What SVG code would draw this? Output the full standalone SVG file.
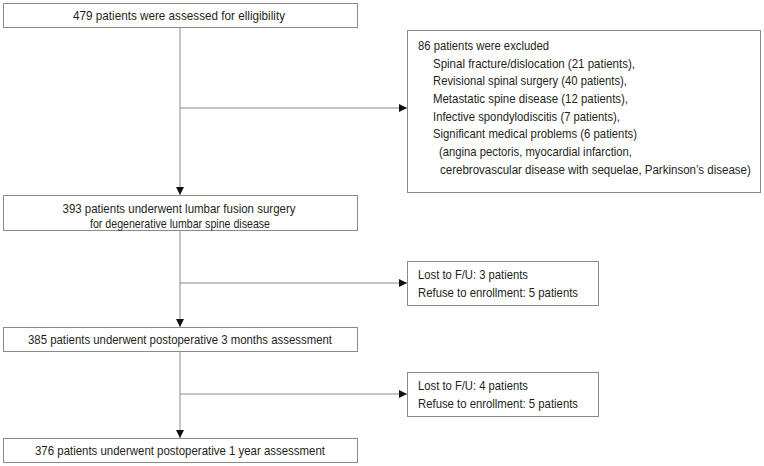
<svg xmlns="http://www.w3.org/2000/svg" width="764" height="466" viewBox="0 0 764 466">
<style>
.box{fill:#fff;stroke:#8a8a8a;stroke-width:1}
.t{font-family:"Liberation Sans",Arial,sans-serif;font-size:13.5px;fill:#231f20}
.c{text-anchor:middle}
.ln{stroke:#8a8a8a;stroke-width:1;fill:none}
</style>
<defs>
<marker id="ah" viewBox="0 0 10 10" refX="10" refY="5" markerWidth="10" markerHeight="8" markerUnits="userSpaceOnUse" orient="auto">
<path d="M0,0 L10,5 L0,10 z" fill="#111"/>
</marker>
</defs>
<rect width="764" height="466" fill="#fff"/>
<g id="connectors">
<path class="ln" d="M180,27 V195" marker-end="url(#ah)"/>
<path class="ln" d="M180,108 H407" marker-end="url(#ah)"/>
<path class="ln" d="M180,230 V327" marker-end="url(#ah)"/>
<path class="ln" d="M180,283 H407" marker-end="url(#ah)"/>
<path class="ln" d="M180,352 V438" marker-end="url(#ah)"/>
<path class="ln" d="M180,394 H407" marker-end="url(#ah)"/>
</g>
<g id="n1">
<rect class="box" x="3.5" y="3.5" width="354" height="24"/>
<text class="t c" x="179" y="20" textLength="212" lengthAdjust="spacingAndGlyphs">479 patients were assessed for elligibility</text>
</g>
<g id="n2">
<rect class="box" x="407.5" y="30.5" width="353" height="162"/>
<text class="t" x="418" y="50" textLength="131" lengthAdjust="spacingAndGlyphs">86 patients were excluded</text>
<text class="t" x="433" y="68" textLength="202" lengthAdjust="spacingAndGlyphs">Spinal fracture/dislocation (21 patients),</text>
<text class="t" x="433" y="85" textLength="194" lengthAdjust="spacingAndGlyphs">Revisional spinal surgery (40 patients),</text>
<text class="t" x="433" y="103" textLength="195" lengthAdjust="spacingAndGlyphs">Metastatic spine disease (12 patients),</text>
<text class="t" x="433" y="121" textLength="187" lengthAdjust="spacingAndGlyphs">Infective spondylodiscitis (7 patients),</text>
<text class="t" x="433" y="138" textLength="204" lengthAdjust="spacingAndGlyphs">Significant medical problems (6 patients)</text>
<text class="t" x="439" y="156" textLength="193" lengthAdjust="spacingAndGlyphs">(angina pectoris, myocardial infarction,</text>
<text class="t" transform="translate(440,174) scale(0.84,1)" x="0" y="0" textLength="370" lengthAdjust="spacingAndGlyphs">cerebrovascular disease with sequelae, Parkinson’s disease)</text>
</g>
<g id="n3">
<rect class="box" x="3.5" y="195.5" width="354" height="35"/>
<text class="t c" x="179" y="213" textLength="233" lengthAdjust="spacingAndGlyphs">393 patients underwent lumbar fusion surgery</text>
<text class="t c" x="180" y="228" textLength="180" lengthAdjust="spacingAndGlyphs">for degenerative lumbar spine disease</text>
</g>
<g id="n4">
<rect class="box" x="407.5" y="261.5" width="191" height="44"/>
<text class="t" x="418" y="279" textLength="110" lengthAdjust="spacingAndGlyphs">Lost to F/U: 3 patients</text>
<text class="t" x="418" y="297" textLength="160" lengthAdjust="spacingAndGlyphs">Refuse to enrollment: 5 patients</text>
</g>
<g id="n5">
<rect class="box" x="3.5" y="327.5" width="354" height="24"/>
<text class="t c" x="180" y="344" textLength="304" lengthAdjust="spacingAndGlyphs">385 patients underwent postoperative 3 months assessment</text>
</g>
<g id="n6">
<rect class="box" x="407.5" y="372.5" width="191" height="44"/>
<text class="t" x="418" y="390" textLength="110" lengthAdjust="spacingAndGlyphs">Lost to F/U: 4 patients</text>
<text class="t" x="418" y="408" textLength="160" lengthAdjust="spacingAndGlyphs">Refuse to enrollment: 5 patients</text>
</g>
<g id="n7">
<rect class="box" x="3.5" y="438.5" width="354" height="24"/>
<text class="t c" x="180" y="455" textLength="290" lengthAdjust="spacingAndGlyphs">376 patients underwent postoperative 1 year assessment</text>
</g>
</svg>
